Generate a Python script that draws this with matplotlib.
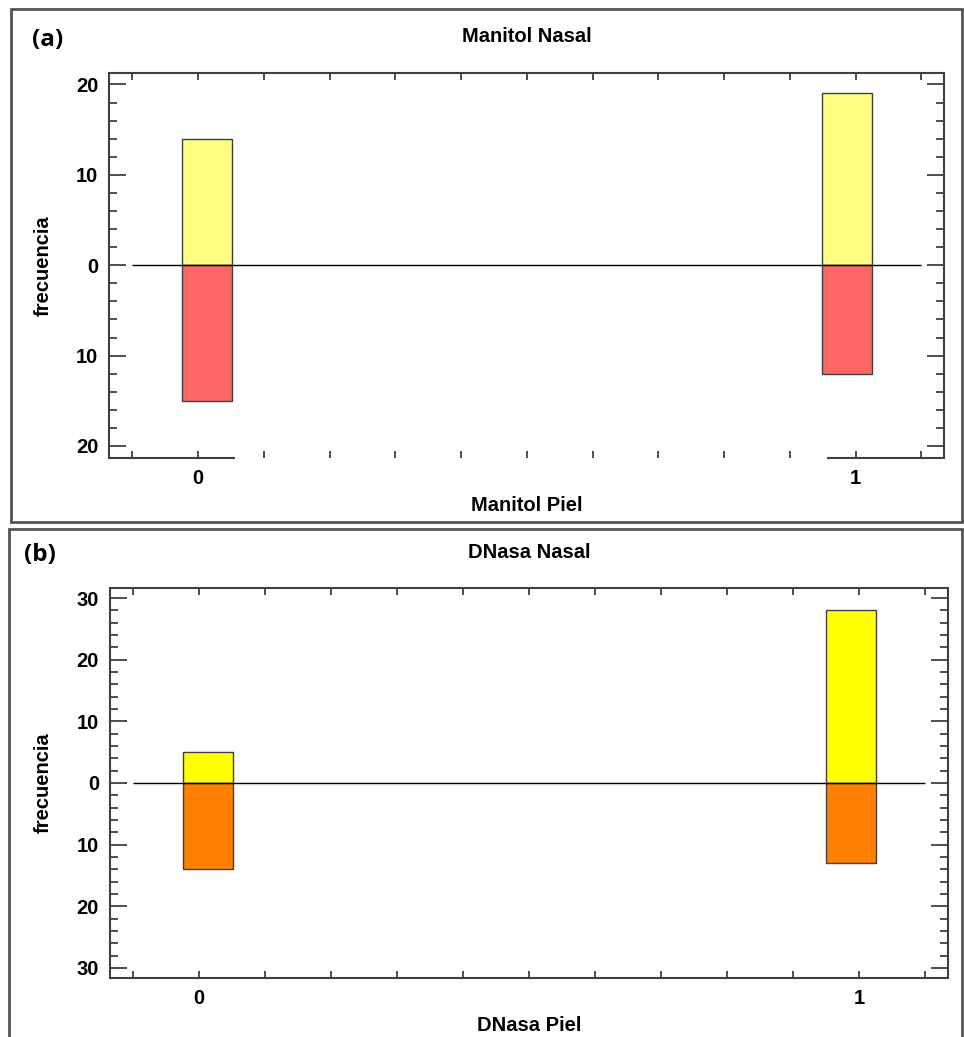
import numpy as np
import matplotlib
matplotlib.use("Agg")
import matplotlib.pyplot as plt
from matplotlib.patches import Rectangle
from matplotlib.ticker import MultipleLocator, FuncFormatter

plt.rcParams["font.family"] = ["Liberation Sans", "DejaVu Sans"]
plt.rcParams["font.weight"] = "bold"

# data
categories = [0, 1]
manitol_pos = [14, 19]
manitol_neg = [15, 12]
dnasa_pos = [5, 28]
dnasa_neg = [14, 13]

W, H = 964, 1037
fig = plt.figure(figsize=(W / 100, H / 100), dpi=100)


def px_axes(x0, y0, x1, y1):
    return fig.add_axes([x0 / W, 1 - y1 / H, (x1 - x0) / W, (y1 - y0) / H])


def panel(ax, pos, neg, c_up, c_down, title, xlabel, ylim, major, minor):
    x = np.array(categories, dtype=float) + np.array([0.013, -0.013])
    ax.bar(x, pos, width=0.076, color=c_up, edgecolor="#404040", linewidth=1)
    ax.bar(x, [-v for v in neg], width=0.076, color=c_down, edgecolor="#404040", linewidth=1)
    ax.hlines(0, -0.1, 1.1, color="black", linewidth=1, zorder=3)
    ax.set_xlim(-0.135, 1.135)
    ax.set_ylim(-ylim, ylim)
    ax.xaxis.set_major_locator(MultipleLocator(0.1))
    ax.xaxis.set_major_formatter(FuncFormatter(
        lambda v, p: f"{v:.0f}" if abs(v - round(v)) < 1e-6 else ""))
    ax.yaxis.set_major_locator(MultipleLocator(major))
    ax.yaxis.set_minor_locator(MultipleLocator(minor))
    ax.yaxis.set_major_formatter(FuncFormatter(lambda v, p: f"{abs(v):.0f}"))
    ax.tick_params(axis="x", direction="in", top=True, bottom=True, length=5,
                   width=1.2, color="#303030", labelsize=14.5, pad=8)
    ax.tick_params(axis="y", which="major", direction="in", left=True, right=True,
                   length=12, width=1.2, color="#303030", labelsize=14.5, pad=8)
    ax.tick_params(axis="y", which="minor", direction="in", left=True, right=True,
                   length=6, width=1.2, color="#303030")
    for s in ax.spines.values():
        s.set_color("#404040")
        s.set_linewidth(1.5)
    ax.set_title(title, fontsize=14.5, fontweight="bold", pad=22)
    ax.set_xlabel(xlabel, fontsize=14.5, fontweight="bold", labelpad=6)
    ax.set_ylabel("frecuencia", fontsize=14.5, fontweight="bold", labelpad=17)


ax1 = px_axes(109.3, 72.7, 944.3, 457.7)
panel(ax1, manitol_pos, manitol_neg, "#FFFF80", "#FF6666",
      "Manitol Nasal", "Manitol Piel", 21.3, 10, 2)
# bottom axis line is broken in the original figure
ax1.spines["bottom"].set_visible(False)
for a, b in [(0, 0.1505), (0.8595, 1)]:
    ax1.plot([a, b], [0, 0], transform=ax1.transAxes, color="#404040",
             linewidth=1.5, clip_on=False, solid_capstyle="butt")

ax2 = px_axes(110, 588.3, 948.3, 977.7)
panel(ax2, dnasa_pos, dnasa_neg, "#FFFF00", "#FF8000",
      "DNasa Nasal", "DNasa Piel", 31.6, 10, 2)

# panel frames
for x0, y0, x1, y1 in [(11, 9, 962, 522), (9, 529, 962, 1045)]:
    fig.add_artist(Rectangle((x0 / W, 1 - y1 / H), (x1 - x0) / W, (y1 - y0) / H,
                             transform=fig.transFigure, fill=False,
                             edgecolor="#555555", linewidth=2))

fig.text(32 / W, 1 - 40 / H, "(a)", fontsize=17.5, fontweight="bold",
         family=["Open Sans", "DejaVu Sans"], va="center", ha="left")
fig.text(24 / W, 1 - 555 / H, "(b)", fontsize=17.5, fontweight="bold",
         family=["Open Sans", "DejaVu Sans"], va="center", ha="left")

fig.savefig("out.png", dpi=100)
